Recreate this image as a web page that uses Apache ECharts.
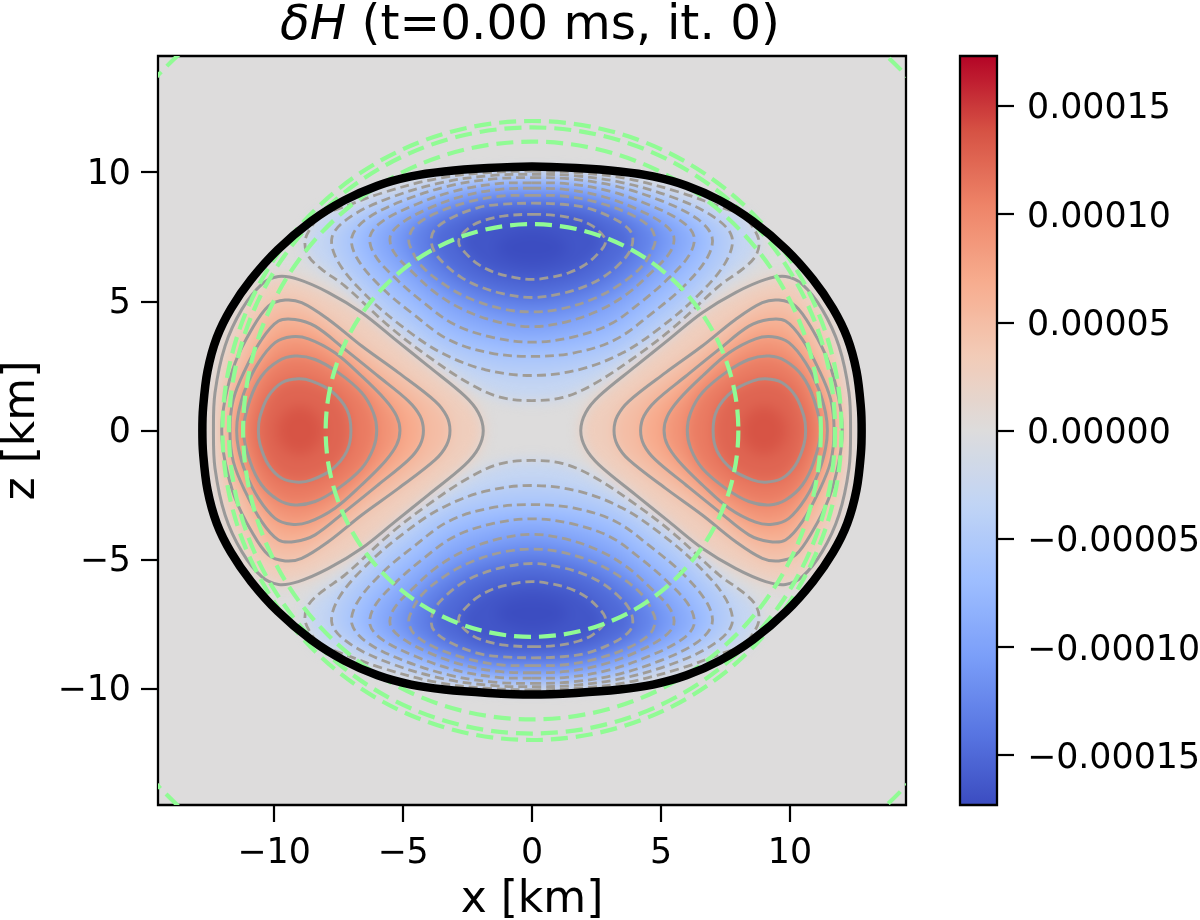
<!DOCTYPE html>
<html><head><meta charset="utf-8">
<style>html,body{margin:0;padding:0;background:#fff}#c{width:1200px;height:920px}</style>
<script src="https://cdn.jsdelivr.net/npm/echarts@6/dist/echarts.min.js"></script>
</head><body><div id="c"></div>
<script>
// Tick labels
const xTicks = [-10, -5, 0, 5, 10];
const zTicks = [-10, -5, 0, 5, 10];
const barTicks = [-0.00015, -0.0001, -0.00005, 0, 0.00005, 0.0001, 0.00015];
const barRange = 0.000173;
const coolwarm = ['#3b4cc0','#5977e3','#7b9ff9','#9ebeff','#c0d4f5','#dddcdc','#f2cbb7','#f7ac8e','#ee8468','#d65244','#b40426'];

// Solid contours: upper half of the +x lobe, [x km, z km], z=0 to z=0
const pos1 = [[1.89,0],[2.08,.69],[2.6,1.33],[4.02,2.49],[5.31,3.53],[6.6,4.56],[7.89,5.34],[9.06,5.85],[9.83,5.96],[10.48,5.66],[11.25,4.69],[11.9,3.27],[12.29,1.46],[12.35,0]];
const pos2 = [[3.18,0],[3.31,.56],[3.76,1.14],[5.18,2.24],[6.6,3.27],[7.89,4.3],[8.93,4.95],[9.57,5.05],[10.22,4.82],[10.87,3.91],[11.51,2.62],[11.9,1.2],[12.03,0]];
const pos3 = [[4.21,0],[4.34,.56],[4.79,1.14],[5.96,2.1],[7.25,3.14],[8.41,4.04],[9.19,4.3],[9.83,4.24],[10.48,3.53],[11.12,2.36],[11.58,1.2],[11.71,0]];
const pos4 = [[5.12,0],[5.25,.56],[5.7,1.2],[6.6,2.1],[7.64,3.01],[8.67,3.55],[9.32,3.63],[9.96,3.4],[10.61,2.62],[11.12,1.59],[11.38,.69],[11.45,0]];
const pos5 = [[6.02,0],[6.15,.69],[6.6,1.46],[7.51,2.24],[8.41,2.75],[9.19,2.88],[9.83,2.69],[10.48,2.11],[10.93,1.2],[11.19,0]];
const pos6 = [[7.02,0],[7.18,.81],[7.77,1.52],[8.54,1.91],[9.06,2],[9.7,1.85],[10.22,1.33],[10.54,.56],[10.61,0]];
const posPeak = [[8.1,0],[8.4,.7],[9,.95],[9.6,.7],[9.9,0]];

// Dashed contours: right half of the +z lobe, [x km, z km], x=0 to x=0
const neg1 = [[0,10.04],[1.8,9.98],[3.7,9.75],[5.8,9.2],[7.6,8.55],[8.15,8.37],[8.53,7.92],[8.8,7.34],[8.67,6.76],[8.15,6.24],[7.25,5.59],[5.5,4],[4,2.85],[2.4,1.8],[1.2,1.28],[0,1.16]];
const neg2 = [[0,9.92],[1.6,9.87],[3.4,9.62],[5.4,9.05],[7,8.3],[7.75,7.5],[7.5,6.5],[6.4,5.2],[5,4],[3.5,3],[1.8,2.35],[0,2.13]];
const neg3 = [[0,9.79],[1.5,9.74],[3.2,9.47],[5,8.9],[6.4,8.2],[6.98,7.5],[6.8,6.7],[5.9,5.6],[4.6,4.5],[3.2,3.5],[1.6,3],[0,2.87]];
const neg4 = [[0,9.59],[1.4,9.55],[3,9.27],[4.5,8.75],[5.8,8.1],[6.28,7.52],[6.1,6.8],[5.3,5.9],[4.2,4.95],[3,4.1],[1.5,3.6],[0,3.42]];
const neg5 = [[0,9.38],[1.3,9.33],[2.7,9.07],[4,8.6],[5.1,8],[5.5,7.5],[5.35,6.9],[4.6,6.1],[3.7,5.3],[2.6,4.65],[1.3,4.2],[0,4.02]];
const neg6 = [[0,9.1],[1.18,9.08],[2.47,8.85],[3.76,8.4],[4.55,7.9],[4.77,7.47],[4.73,7.14],[4.28,6.37],[3.31,5.59],[2.27,5.05],[1.05,4.69],[0,4.59]];
const neg7 = [[0,8.8],[1.18,8.76],[2.08,8.63],[3.11,8.24],[3.76,7.79],[3.91,7.4],[3.76,6.88],[3.31,6.37],[2.73,5.92],[2.08,5.59],[1.18,5.31],[0,5.15]];
const neg8 = [[0,8.37],[1.05,8.31],[1.82,8.15],[2.34,7.92],[2.79,7.5],[2.83,7.21],[2.53,6.82],[2.08,6.43],[1.43,6.11],[.66,5.92],[0,5.85]];
const negPeak = [[0,7.75],[1,7.5],[1.4,7.1],[1,6.65],[0,6.45]];

// Fill value of the region inside each contour
const posFill = [0.00003,0.00005,0.00007,0.00009,0.00011,0.000125,0.000137];
const negFill = [-0.00003,-0.00005,-0.00007,-0.00009,-0.00011,-0.00013,-0.00015,-0.000165,-0.000172];

// Thick black outline: first quadrant, [x km, z km]
const outline = [[0,10.22],[1.7,10.16],[3.4,10.03],[4.69,9.84],[5.99,9.48],[7.28,8.91],[8.57,8.1],[9.86,7.0],[10.89,5.85],[11.67,4.72],[12.22,3.6],[12.58,2.3],[12.75,.9],[12.78,0]];
// Green dashed circles, radius in km
const circleRadii = [8, 11.2, 11.75, 12, 20];

const posHalves = [pos1,pos2,pos3,pos4,pos5,pos6,posPeak];
const negHalves = [neg1,neg2,neg3,neg4,neg5,neg6,neg7,neg8,negPeak];
const mx = p => [-p[0], p[1]], mz = p => [p[0], -p[1]];
const closeZ = h => h.concat(h.slice(1,-1).reverse().map(mz));
const closeX = h => h.concat(h.slice(1,-1).reverse().map(mx));
const posRight = posHalves.map(closeZ), posLeft = posRight.map(l => l.map(mx));
const negTop = negHalves.map(closeX), negBottom = negTop.map(l => l.map(mz));

const heatPolys = [];
posRight.forEach((l,i)=>{heatPolys.push({pts:l,v:posFill[i]});heatPolys.push({pts:posLeft[i],v:posFill[i]});});
negTop.forEach((l,i)=>{heatPolys.push({pts:l,v:negFill[i]});heatPolys.push({pts:negBottom[i],v:negFill[i]});});

const solidLines = posRight.slice(0,6).concat(posLeft.slice(0,6));
const dashedLines = negTop.slice(0,8).concat(negBottom.slice(0,8));
const upperRight = outline.concat(outline.slice(0,-1).reverse().map(mz));
const outlineLoop = upperRight.concat(upperRight.slice(1,-1).reverse().map(mx));

function polyRender(list, style){
  return (params, api) => ({
    type:'polygon', silent:true,
    shape:{points:list[params.dataIndex].map(p=>api.coord(p)), smooth:0.35},
    style:Object.assign({fill:'none'}, style)
  });
}
const stub = list => list.map(()=>[0,0]);
const minus = s => String(s).replace('-','\u2212');
const font = 'DejaVu Sans';
const tickFs = 34.8;
const nudged = pad => ({a:{fontFamily:font,fontSize:tickFs,color:'#000',padding:[pad,0,0,0]}});

const chart = echarts.init(document.getElementById('c'), null, {renderer:'canvas'});
chart.setOption({
  animation:false,
  backgroundColor:'#fff',
  title:{
    text:'{i|\u03b4H} (t=0.00 ms, it. 0)', left:525, top:-3, textAlign:'center',
    textStyle:{fontFamily:font,fontSize:48.5,fontWeight:'normal',color:'#000',
      rich:{i:{fontFamily:font,fontStyle:'italic',fontSize:48.5,color:'#000'}}}
  },
  grid:[
    {left:158,right:294,top:56,bottom:115,outerBoundsMode:'none',show:true,backgroundColor:'#dddcdc',borderColor:'#000',borderWidth:2.3},
    {left:960,right:203,top:56,bottom:115,outerBoundsMode:'none',show:true,backgroundColor:'transparent',borderColor:'#000',borderWidth:2.3,zlevel:2}
  ],
  xAxis:[
    {type:'value',gridIndex:0,min:-14.5,max:14.5,position:'bottom',splitLine:{show:false},zlevel:2,
     axisLine:{show:false,onZero:false},
     axisTick:{show:true,length:17,lineStyle:{color:'#000',width:2.2},customValues:xTicks},
     axisLabel:{show:true,customValues:xTicks,formatter:minus,fontFamily:font,fontSize:tickFs,color:'#000',margin:31},
     name:'x [km]',nameLocation:'middle',nameGap:74,nameTextStyle:{fontFamily:font,fontSize:44,color:'#000'}},
    {type:'value',gridIndex:1,min:0,max:1,show:false}
  ],
  yAxis:[
    {type:'value',gridIndex:0,min:-14.5,max:14.5,position:'left',splitLine:{show:false},zlevel:2,
     axisLine:{show:false,onZero:false},
     axisTick:{show:true,length:17,lineStyle:{color:'#000',width:2.2},customValues:zTicks},
     axisLabel:{show:true,customValues:zTicks,formatter:v=>'{a|'+minus(v)+'}',rich:nudged(5),fontFamily:font,fontSize:tickFs,color:'#000',margin:27},
     name:'z [km]',nameLocation:'middle',nameGap:113,nameRotate:90,nameTextStyle:{fontFamily:font,fontSize:44,color:'#000'}},
    {type:'value',gridIndex:1,min:-barRange,max:barRange,position:'right',splitLine:{show:false},zlevel:2,
     axisLine:{show:false,onZero:false},
     axisTick:{show:true,length:17,lineStyle:{color:'#000',width:2.2},customValues:barTicks},
     axisLabel:{show:true,customValues:barTicks,formatter:v=>'{a|'+minus(v.toFixed(5))+'}',rich:nudged(7),fontFamily:font,fontSize:tickFs,color:'#000',margin:30}}
  ],
  visualMap:{
    type:'continuous',show:true,seriesIndex:0,dimension:2,min:-barRange,max:barRange,
    left:960,top:56,itemWidth:37,itemHeight:749,padding:0,text:null,calculable:false,realtime:false,hoverLink:false,
    showLabel:false,inRange:{color:coolwarm},textStyle:{fontSize:1,color:'transparent'},borderWidth:0
  },
  series:[
    {type:'custom',coordinateSystem:'cartesian2d',xAxisIndex:0,yAxisIndex:0,zlevel:1,clip:false,silent:true,
     data:heatPolys.map(h=>[0,0,h.v]),
     renderItem:(params,api)=>({type:'polygon',silent:true,
       shape:{points:heatPolys[params.dataIndex].pts.map(p=>api.coord(p)),smooth:0.35},
       style:{fill:api.visual('color')}})},
    {type:'custom',coordinateSystem:'cartesian2d',zlevel:2,z:2,silent:true,data:stub(solidLines),
     renderItem:polyRender(solidLines,{stroke:'#999999',lineWidth:3})},
    {type:'custom',coordinateSystem:'cartesian2d',zlevel:2,z:2,silent:true,data:stub(dashedLines),
     renderItem:polyRender(dashedLines,{stroke:'#a09c96',lineWidth:2.8,lineDash:[9,5]})},
    {type:'custom',coordinateSystem:'cartesian2d',zlevel:2,z:3,silent:true,clip:true,
     data:circleRadii.map(r=>[0,0,r]),
     renderItem:(params,api)=>{
       const c=api.coord([0,0]);
       return {type:'circle',silent:true,shape:{cx:c[0],cy:c[1],r:api.size([api.value(2),0])[0]},
         style:{fill:'none',stroke:'#90fb94',lineWidth:4.2,lineDash:[17,8]}};
     }},
    {type:'custom',coordinateSystem:'cartesian2d',zlevel:2,z:4,silent:true,data:[[0,0]],
     renderItem:polyRender([outlineLoop],{stroke:'#000',lineWidth:8.5})}
  ]
});
function soften(){
  const cv=document.querySelector('canvas[data-zr-dom-id="zr_1"]');
  if(cv) cv.style.filter='blur(7px)';
}
soften();
chart.on('finished',soften);
</script></body></html>
